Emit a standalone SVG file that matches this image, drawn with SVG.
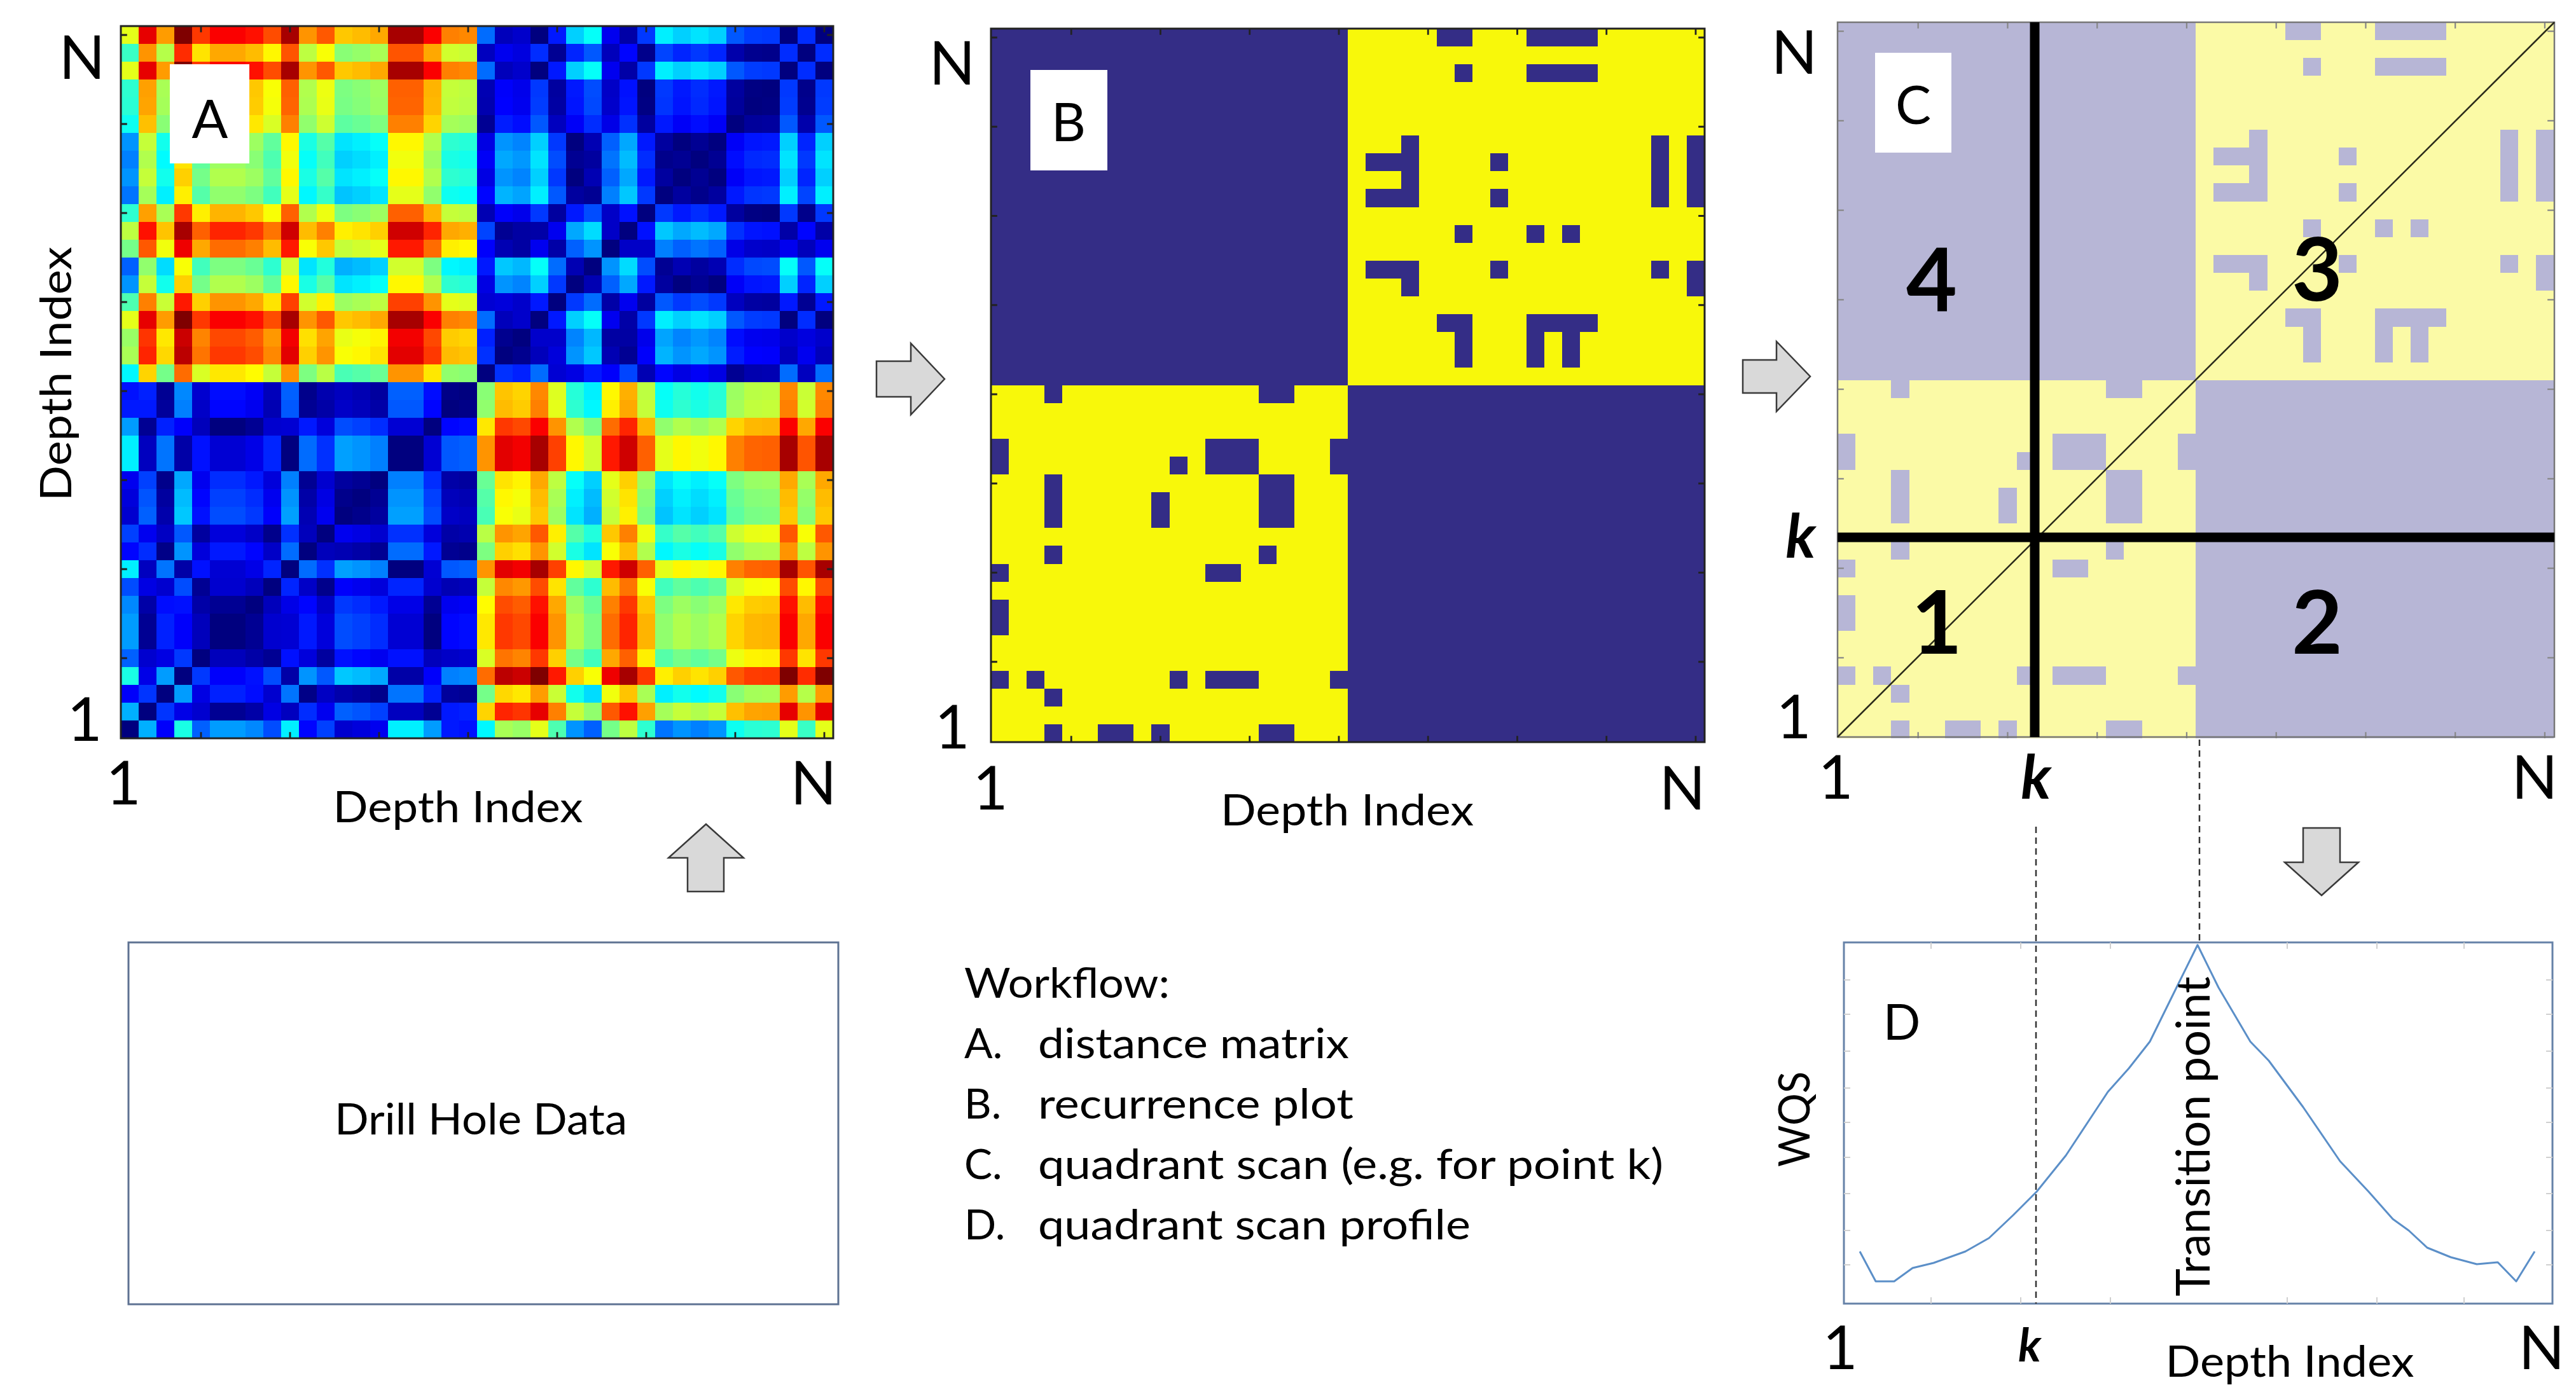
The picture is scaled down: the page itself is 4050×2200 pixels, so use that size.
<svg xmlns="http://www.w3.org/2000/svg" xmlns:xlink="http://www.w3.org/1999/xlink" width="4050" height="2200" viewBox="0 0 4050 2200">
<style>
.t{font-family:Lato,"Liberation Sans",sans-serif;fill:#000}
.big{font-size:95px}
.lab{font-size:68px}
.box{font-size:84px}
.num{font-size:138px;font-weight:700}
.kk{font-weight:700;font-style:italic}
.wf{font-size:66px}
.arrow{fill:#d9d9d9;stroke:#3a3a3a;stroke-width:2.5;stroke-linejoin:miter}
.dash{stroke:#333;stroke-width:2.5;stroke-dasharray:10 7;fill:none}
.frame{fill:none;stroke:#222;stroke-width:3}
</style>
<defs>
<filter id="jet" color-interpolation-filters="sRGB" x="0" y="0" width="1" height="1">
<feComponentTransfer>
<feFuncR type="table" tableValues="0 0 0 0 0.5 1 1 1 0.5"/>
<feFuncG type="table" tableValues="0 0 0.5 1 1 1 0.5 0 0"/>
<feFuncB type="table" tableValues="0.5 1 1 1 0.5 0 0 0 0"/>
</feComponentTransfer>
</filter>
<g id="Arows" shape-rendering="crispEdges">
<rect x="190" y="41" width="1120" height="28" fill="#fff"/>
<rect x="190" y="69" width="1120" height="28" fill="#d4d4d4"/>
<rect x="190" y="97" width="1120" height="28" fill="#fff"/>
<rect x="190" y="125" width="1120" height="28" fill="#d1d1d1"/>
<rect x="190" y="153" width="1120" height="28" fill="#d0d0d0"/>
<rect x="190" y="181" width="1120" height="28" fill="#c9c9c9"/>
<rect x="190" y="209" width="1120" height="28" fill="#ababab"/>
<rect x="190" y="237" width="1120" height="28" fill="#a6a6a6"/>
<rect x="190" y="265" width="1120" height="28" fill="#ababab"/>
<rect x="190" y="293" width="1120" height="28" fill="#a3a3a3"/>
<rect x="190" y="321" width="1120" height="28" fill="#d1d1d1"/>
<rect x="190" y="349" width="1120" height="28" fill="#f5f5f5"/>
<rect x="190" y="377" width="1120" height="28" fill="#e3e3e3"/>
<rect x="190" y="405" width="1120" height="28" fill="#9e9e9e"/>
<rect x="190" y="433" width="1120" height="28" fill="#ababab"/>
<rect x="190" y="461" width="1120" height="28" fill="#d9d9d9"/>
<rect x="190" y="489" width="1120" height="28" fill="#fff"/>
<rect x="190" y="517" width="1120" height="28" fill="#ececec"/>
<rect x="190" y="545" width="1120" height="28" fill="#f0f0f0"/>
<rect x="190" y="573" width="1120" height="28" fill="#c4c4c4"/>
<rect x="190" y="601" width="1120" height="28" fill="#424242"/>
<rect x="190" y="629" width="1120" height="28" fill="#404040"/>
<rect x="190" y="657" width="1120" height="28" fill="#1f1f1f"/>
<rect x="190" y="685" width="1120" height="28" fill="#0a0a0a"/>
<rect x="190" y="713" width="1120" height="28" fill="#0a0a0a"/>
<rect x="190" y="741" width="1120" height="28" fill="#4a4a4a"/>
<rect x="190" y="769" width="1120" height="28" fill="#4f4f4f"/>
<rect x="190" y="797" width="1120" height="28" fill="#525252"/>
<rect x="190" y="825" width="1120" height="28" fill="#363636"/>
<rect x="190" y="853" width="1120" height="28" fill="#454545"/>
<rect x="190" y="881" width="1120" height="28" fill="#0a0a0a"/>
<rect x="190" y="909" width="1120" height="28" fill="#333"/>
<rect x="190" y="937" width="1120" height="28" fill="#242424"/>
<rect x="190" y="965" width="1120" height="28" fill="#1f1f1f"/>
<rect x="190" y="993" width="1120" height="28" fill="#1f1f1f"/>
<rect x="190" y="1021" width="1120" height="28" fill="#2e2e2e"/>
<rect x="190" y="1049" width="1120" height="28" fill="#000"/>
<rect x="190" y="1077" width="1120" height="28" fill="#474747"/>
<rect x="190" y="1105" width="1120" height="28" fill="#1a1a1a"/>
<rect x="190" y="1133" width="1120" height="28" fill="#666"/>
</g>
<g id="rpb">
<rect x="25" y="0" width="2" height="1"/>
<rect x="30" y="0" width="4" height="1"/>
<rect x="26" y="2" width="1" height="1"/>
<rect x="30" y="2" width="4" height="1"/>
<rect x="23" y="6" width="1" height="4"/>
<rect x="21" y="7" width="3" height="1"/>
<rect x="21" y="9" width="3" height="1"/>
<rect x="28" y="7" width="1" height="1"/>
<rect x="28" y="9" width="1" height="1"/>
<rect x="37" y="6" width="1" height="4"/>
<rect x="39" y="6" width="1" height="4"/>
<rect x="26" y="11" width="1" height="1"/>
<rect x="30" y="11" width="1" height="1"/>
<rect x="32" y="11" width="1" height="1"/>
<rect x="21" y="13" width="3" height="1"/>
<rect x="23" y="13" width="1" height="2"/>
<rect x="28" y="13" width="1" height="1"/>
<rect x="37" y="13" width="1" height="1"/>
<rect x="39" y="13" width="1" height="2"/>
<rect x="25" y="16" width="2" height="1"/>
<rect x="26" y="16" width="1" height="3"/>
<rect x="30" y="16" width="4" height="1"/>
<rect x="30" y="16" width="1" height="3"/>
<rect x="32" y="16" width="1" height="3"/>
<rect x="3" y="20" width="1" height="1"/>
<rect x="15" y="20" width="2" height="1"/>
<rect x="0" y="23" width="1" height="2"/>
<rect x="12" y="23" width="3" height="2"/>
<rect x="10" y="24" width="1" height="1"/>
<rect x="19" y="23" width="1" height="2"/>
<rect x="3" y="25" width="1" height="3"/>
<rect x="9" y="26" width="1" height="2"/>
<rect x="15" y="25" width="2" height="3"/>
<rect x="3" y="29" width="1" height="1"/>
<rect x="15" y="29" width="1" height="1"/>
<rect x="0" y="30" width="1" height="1"/>
<rect x="12" y="30" width="2" height="1"/>
<rect x="0" y="32" width="1" height="2"/>
<rect x="0" y="36" width="1" height="1"/>
<rect x="2" y="36" width="1" height="1"/>
<rect x="3" y="37" width="1" height="1"/>
<rect x="10" y="36" width="1" height="1"/>
<rect x="12" y="36" width="3" height="1"/>
<rect x="19" y="36" width="1" height="1"/>
<rect x="3" y="39" width="1" height="1"/>
<rect x="6" y="39" width="2" height="1"/>
<rect x="9" y="39" width="1" height="1"/>
<rect x="15" y="39" width="2" height="1"/>
</g>
<path id="ticks" fill="none" d="M4.5,0v0.35M9.5,0v0.35M14.5,0v0.35M19.5,0v0.35M24.5,0v0.35M29.5,0v0.35M34.5,0v0.35M39.5,0v0.35M4.5,40v-0.35M9.5,40v-0.35M14.5,40v-0.35M19.5,40v-0.35M24.5,40v-0.35M29.5,40v-0.35M34.5,40v-0.35M39.5,40v-0.35M0,0.5h0.35M0,5.5h0.35M0,10.5h0.35M0,15.5h0.35M0,20.5h0.35M0,25.5h0.35M0,30.5h0.35M0,35.5h0.35M40,0.5h-0.35M40,5.5h-0.35M40,10.5h-0.35M40,15.5h-0.35M40,20.5h-0.35M40,25.5h-0.35M40,30.5h-0.35M40,35.5h-0.35"/>
</defs>
<rect width="4050" height="2200" fill="#fff"/>

<g id="panel-A">
<g filter="url(#jet)">
<use href="#Arows"/>
<g style="mix-blend-mode:difference"><use href="#Arows" transform="matrix(0 -1 -1 0 1351 1351)"/></g>
</g>
<use href="#ticks" transform="translate(190,41) scale(28)" stroke="#222" stroke-width="0.1"/>
<rect class="frame" x="190" y="41" width="1120" height="1120"/>
<rect x="267" y="101" width="125" height="156" fill="#fff"/>
<text class="t box" x="330" y="217" text-anchor="middle">A</text>
<text class="t big" x="129" y="124" text-anchor="middle">N</text>
<text class="t big" x="133" y="1165" text-anchor="middle">1</text>
<text class="t big" x="194" y="1265" text-anchor="middle">1</text>
<text class="t big" x="1279" y="1265" text-anchor="middle">N</text>
<text class="t lab" x="720" y="1293" text-anchor="middle" textLength="393" lengthAdjust="spacingAndGlyphs">Depth Index</text>
<text class="t lab" transform="translate(112,588) rotate(-90)" text-anchor="middle" textLength="400" lengthAdjust="spacingAndGlyphs">Depth Index</text>
</g>

<g id="panel-B">
<g transform="translate(1558,45) scale(28.05)" shape-rendering="crispEdges">
<rect x="0" y="0" width="40" height="40" fill="#342d86"/>
<rect x="20" y="0" width="20" height="20" fill="#f8f80a"/>
<rect x="0" y="20" width="20" height="20" fill="#f8f80a"/>
<use href="#rpb" fill="#342d86"/>
</g>
<use href="#ticks" transform="translate(1558,45) scale(28.05)" stroke="#222" stroke-width="0.1"/>
<rect class="frame" x="1558" y="45" width="1122" height="1122"/>
<rect x="1620" y="110" width="121" height="158" fill="#fff"/>
<text class="t box" x="1680" y="222" text-anchor="middle">B</text>
<text class="t big" x="1497" y="133" text-anchor="middle">N</text>
<text class="t big" x="1497" y="1177" text-anchor="middle">1</text>
<text class="t big" x="1557" y="1273" text-anchor="middle">1</text>
<text class="t big" x="2645" y="1273" text-anchor="middle">N</text>
<text class="t lab" x="2118" y="1298" text-anchor="middle" textLength="398" lengthAdjust="spacingAndGlyphs">Depth Index</text>
</g>

<g id="panel-C">
<g transform="translate(2889,35) scale(28.15)" shape-rendering="crispEdges">
<rect x="0" y="0" width="40" height="40" fill="#b7b6d6"/>
<rect x="20" y="0" width="20" height="20" fill="#fbfaa6"/>
<rect x="0" y="20" width="20" height="20" fill="#fbfaa6"/>
<use href="#rpb" fill="#b7b6d6"/>
</g>
<use href="#ticks" transform="translate(2889,35) scale(28.15)" stroke="#888" stroke-width="0.08"/>
<rect x="2889" y="35" width="1127" height="1124" fill="none" stroke="#777" stroke-width="2.5"/>
<line x1="2889" y1="1159" x2="4016" y2="35" stroke="#2a2a1a" stroke-width="2.5"/>
<line x1="3199" y1="35" x2="3199" y2="1159" stroke="#000" stroke-width="15"/>
<line x1="2889" y1="845" x2="4016" y2="845" stroke="#000" stroke-width="15"/>
<rect x="2948" y="83" width="120" height="157" fill="#fff"/>
<text class="t box" x="3008" y="195" text-anchor="middle">C</text>
<text class="t num" x="3037" y="489" text-anchor="middle">4</text>
<text class="t num" x="3643" y="473" text-anchor="middle">3</text>
<text class="t num" x="3045" y="1028" text-anchor="middle">1</text>
<text class="t num" x="3643" y="1028" text-anchor="middle">2</text>
<text class="t big" x="2821" y="116" text-anchor="middle">N</text>
<text class="t big kk" x="2831" y="877" text-anchor="middle">k</text>
<text class="t big" x="2820" y="1161" text-anchor="middle">1</text>
<text class="t big" x="2886" y="1256" text-anchor="middle">1</text>
<text class="t big kk" x="3201" y="1256" text-anchor="middle">k</text>
<text class="t big" x="3985" y="1256" text-anchor="middle">N</text>
</g>

<g id="panel-D">
<rect x="2899" y="1482" width="1114" height="568" fill="#fff" stroke="#6682a8" stroke-width="3"/>
<path fill="none" stroke="#d0d0d0" stroke-width="2" d="M3036,2050v-10M3177,2050v-10M3318,2050v-10M3596,2050v-10M3737,2050v-10M3874,2050v-10M3036,1482v10M3177,1482v10M3318,1482v10M3596,1482v10M3737,1482v10M3874,1482v10M2899,1541h10M2899,1595h10M2899,1653h10M2899,1711h10M2899,1765h10M2899,1820h10M2899,1877h10M2899,1935h10M2899,1989h10M4013,1541h-10M4013,1595h-10M4013,1653h-10M4013,1711h-10M4013,1765h-10M4013,1820h-10M4013,1877h-10M4013,1935h-10M4013,1989h-10"/>
<polyline fill="none" stroke="#5b8fc8" stroke-width="3" stroke-linejoin="round" points="2924,1968 2949,2015 2978,2015 3007,1994 3040,1986 3090,1968 3127,1947 3165,1911 3202,1874 3248,1817 3314,1717 3347,1680 3380,1638 3413,1571 3455,1486 3488,1553 3538,1638 3567,1668 3621,1741 3679,1826 3724,1874 3762,1917 3787,1935 3816,1962 3853,1977 3894,1988 3927,1985 3956,2015 3985,1968"/>
<text class="t" style="font-size:77px" x="2990" y="1635" text-anchor="middle">D</text>
<text class="t lab" transform="translate(2845,1760) rotate(-90)" text-anchor="middle" textLength="150" lengthAdjust="spacingAndGlyphs">WQS</text>
<text class="t" style="font-size:73px" transform="translate(3474,1787) rotate(-90)" text-anchor="middle" textLength="503" lengthAdjust="spacingAndGlyphs">Transition point</text>
<text class="t big" x="2893" y="2153" text-anchor="middle">1</text>
<text class="t kk" style="font-size:72px" x="3191" y="2141" text-anchor="middle">k</text>
<text class="t lab" x="3600" y="2165" text-anchor="middle" textLength="391" lengthAdjust="spacingAndGlyphs">Depth Index</text>
<text class="t big" x="3996" y="2153" text-anchor="middle">N</text>
</g>

<g id="drill-hole-data">
<rect x="202" y="1482" width="1116" height="569" fill="#fff" stroke="#5e7292" stroke-width="3"/>
<text class="t lab" x="756" y="1784" text-anchor="middle" textLength="460" lengthAdjust="spacingAndGlyphs">Drill Hole Data</text>
</g>

<g id="workflow">
<text class="t wf" x="1516" y="1569" textLength="323" lengthAdjust="spacingAndGlyphs">Workflow:</text>
<text class="t wf" x="1516" y="1664">A.</text>
<text class="t wf" x="1632" y="1664" textLength="489" lengthAdjust="spacingAndGlyphs">distance matrix</text>
<text class="t wf" x="1516" y="1759">B.</text>
<text class="t wf" x="1632" y="1759" textLength="496" lengthAdjust="spacingAndGlyphs">recurrence plot</text>
<text class="t wf" x="1516" y="1854">C.</text>
<text class="t wf" x="1632" y="1854" textLength="983" lengthAdjust="spacingAndGlyphs">quadrant scan (e.g. for point k)</text>
<text class="t wf" x="1516" y="1949">D.</text>
<text class="t wf" x="1632" y="1949" textLength="680" lengthAdjust="spacingAndGlyphs">quadrant scan profile</text>
</g>

<g id="connectors">
<path class="arrow" d="M1378,568H1432V540L1485,596L1432,652V624H1378Z"/>
<path class="arrow" d="M2740,566H2793V537L2846,592L2793,647V618H2740Z"/>
<path class="arrow" d="M1081,1402V1349H1051L1110,1296L1169,1349H1138V1402Z"/>
<path class="arrow" d="M3621,1302V1356H3592L3650,1408L3708,1356H3679V1302Z"/>
<line class="dash" x1="3201" y1="1300" x2="3201" y2="2050"/>
<line class="dash" x1="3458" y1="1163" x2="3458" y2="1486"/>
</g>
</svg>
